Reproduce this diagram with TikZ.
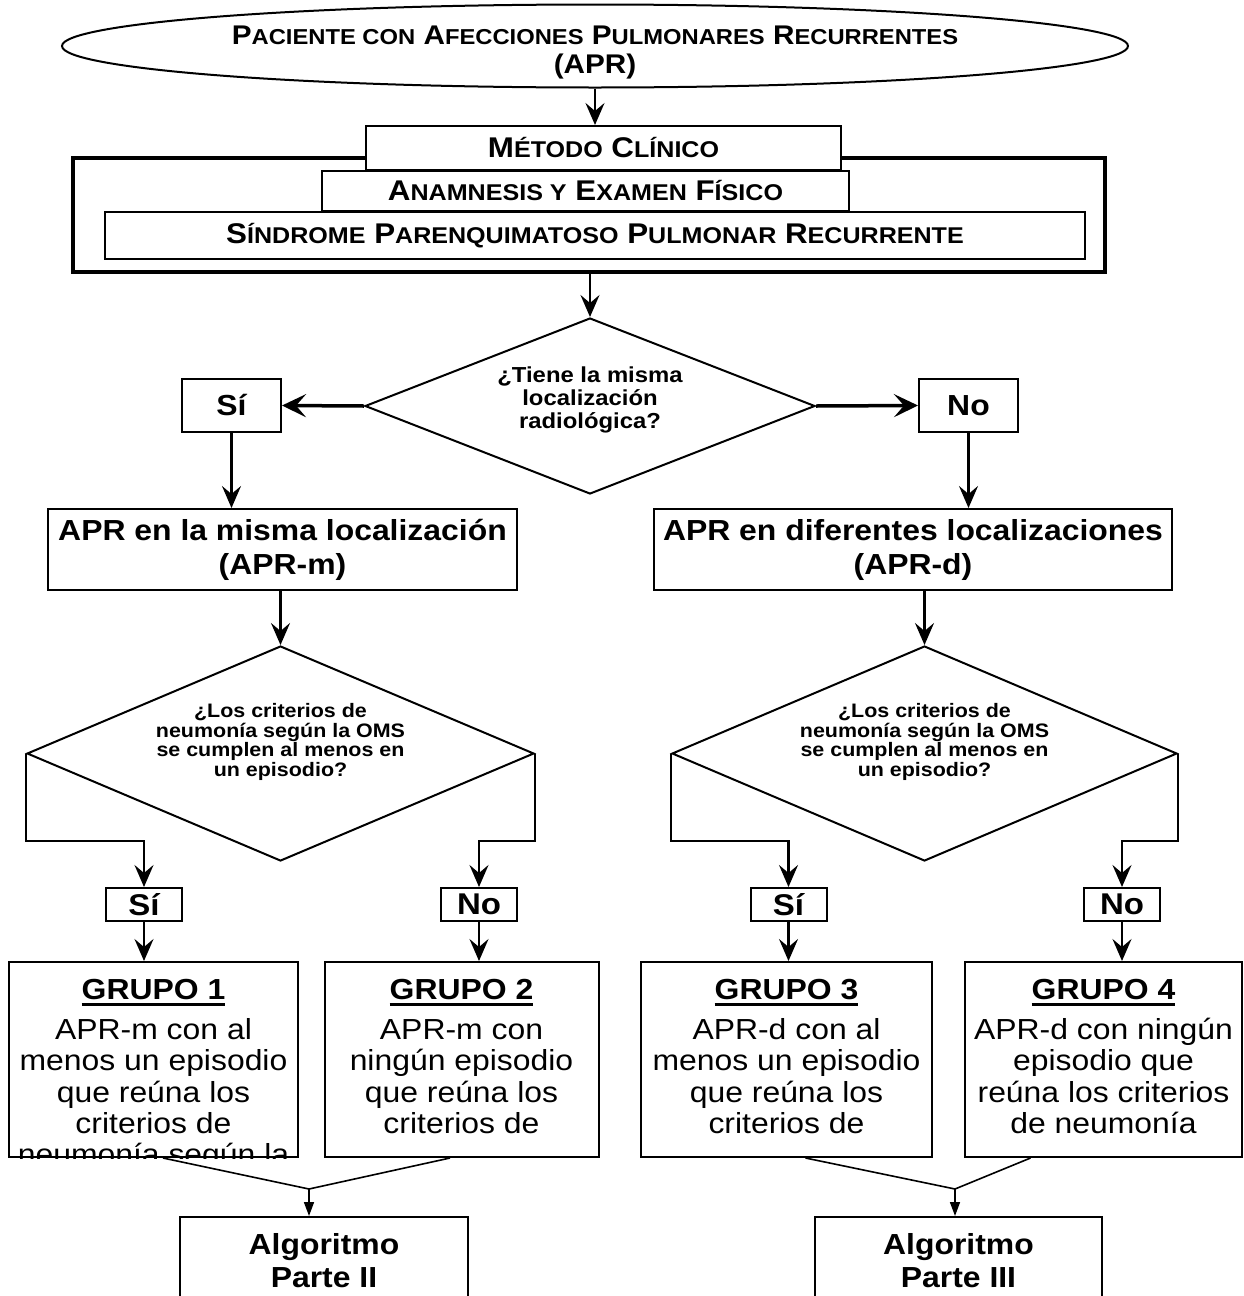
\documentclass[tikz,border=0pt]{standalone}
\usepackage{fontspec}
\setmainfont{Liberation Sans}[FakeStretch=1.1]
\usetikzlibrary{shapes.geometric,arrows.meta}
% thick underline for the group titles
\newcommand\thickul[1]{\setbox0\hbox{#1}\rlap{\vrule height -4pt depth 6.8pt width \wd0}\box0}
% fake small capitals for the headings
\newcommand\lowT[1]{{\fontsize{21.6}{21.6}\selectfont #1}}
\newcommand\lowB[1]{{\fontsize{22.8}{22.8}\selectfont #1}}
\begin{document}
\begin{tikzpicture}[x=1pt,y=-1pt,
  box/.style={draw, line width=2pt, fill=white, inner sep=0pt, align=center},
  hdfont/.style={font=\bfseries\fontsize{28.5}{30}\selectfont},
  bigfont/.style={font=\bfseries\fontsize{29}{34}\selectfont},
  yesno/.style={box, font=\bfseries\fontsize{30}{30}\selectfont, minimum width=76, minimum height=33},
  grptext/.style={anchor=north, inner sep=0pt, align=center, font=\fontsize{29}{31.3}\selectfont},
  arr/.style={line width=2.3pt, -{Stealth[length=22pt,width=19pt,inset=8pt]}},
  arrbold/.style={line width=3.5pt, -{Stealth[length=24pt,width=23pt,inset=10pt]}},
  mergeline/.style={line width=1.6pt},
  mergearr/.style={line width=1.6pt, -{Triangle[length=14pt,width=10pt]}}]
\useasboundingbox (0,0) rectangle (1243,1296);
\fill[white] (0,0) rectangle (1243,1296);

% patient oval
\node[draw, ellipse, line width=2pt, minimum width=1066, minimum height=83, inner sep=0pt] (start) at (595,46) {};
\node[align=center, inner sep=0pt, font=\bfseries\fontsize{27}{29}\selectfont] (starttxt) at (595,53)
  {P\lowT{ACIENTE CON} A\lowT{FECCIONES} P\lowT{ULMONARES} R\lowT{ECURRENTES}\\(APR)};

% clinical method block
\node[draw, line width=3.5pt, minimum width=1032, minimum height=114, inner sep=0pt] (frame) at (589,215) {};
\node[box, hdfont, minimum width=475, minimum height=44] (metodo) at (603.5,148) {M\lowB{ÉTODO} C\lowB{LÍNICO}};
\node[box, hdfont, minimum width=527, minimum height=40] (anam) at (585.5,191) {A\lowB{NAMNESIS Y} E\lowB{XAMEN} F\lowB{ÍSICO}};
\node[box, hdfont, minimum width=980, minimum height=47] (sind) at (595,235.5) {S\lowB{ÍNDROME} P\lowB{ARENQUIMATOSO} P\lowB{ULMONAR} R\lowB{ECURRENTE}};

\draw[arr] (start.south) -- (start.south |- metodo.north);

% first decision
\node[draw, diamond, line width=2pt, minimum width=450, minimum height=176, inner sep=0pt] (q1) at (590,406) {};
\node[align=center, inner sep=0pt, font=\bfseries\fontsize{21.7}{23}\selectfont] (q1t) at (590,400)
  {¿Tiene la misma\\localización\\radiológica?};
\draw[arr] (frame.south -| q1.north) -- (q1.north);

\node[box, bigfont, minimum width=99, minimum height=53] (si1) at (231.5,405.5) {Sí};
\node[box, bigfont, minimum width=99, minimum height=53] (no1) at (968.5,405.5) {No};
\draw[arrbold] (q1.west) -- (si1.east);
\draw[arrbold] (q1.east) -- (no1.west);

\node[box, bigfont, minimum width=469, minimum height=81] (aprm) at (282.5,549.5) {APR en la misma localización\\(APR-m)};
\node[box, bigfont, minimum width=518, minimum height=81] (aprd) at (913,549.5) {APR en diferentes localizaciones\\(APR-d)};
\draw[arr] (si1.south) -- (si1.south |- aprm.north);
\draw[arr] (no1.south) -- (no1.south |- aprd.north);

% pneumonia criteria decisions
\node[draw, diamond, line width=2pt, minimum width=507, minimum height=215, inner sep=0pt] (q2) at (280.5,753.5) {};
\node[draw, diamond, line width=2pt, minimum width=505, minimum height=215, inner sep=0pt] (q3) at (924.5,753.5) {};
\node[align=center, inner sep=0pt, font=\bfseries\fontsize{19.5}{19.5}\selectfont] (q2t) at (280.5,742)
  {¿Los criterios de\\neumonía según la OMS\\se cumplen al menos en\\un episodio?};
\node[align=center, inner sep=0pt, font=\bfseries\fontsize{19.5}{19.5}\selectfont] (q3t) at (924.5,742)
  {¿Los criterios de\\neumonía según la OMS\\se cumplen al menos en\\un episodio?};
\draw[arr] (aprm.south -| q2.north) -- (q2.north);
\draw[arr] (aprd.south -| q3.north) -- (q3.north);

\node[yesno] (si2) at (144,904.5) {Sí};
\node[yesno] (no2) at (479,904.5) {No};
\node[yesno] (si3) at (788.5,904.5) {Sí};
\node[yesno] (no3) at (1122,904.5) {No};
\draw[arr] (q2.west) -- ++(0,87.5) -| (si2.north);
\draw[arr] (q2.east) -- ++(0,87.5) -| (no2.north);
\draw[arr] (q3.west) -- ++(0,87.5) -| (si3.north);
\draw[arr] (q3.east) -- ++(0,87.5) -| (no3.north);

% groups
\node[box, minimum width=289, minimum height=195] (g1) at (153.5,1059.5) {};
\node[box, minimum width=274, minimum height=195] (g2) at (461.5,1059.5) {};
\node[box, minimum width=291, minimum height=195] (g3) at (786.5,1059.5) {};
\node[box, minimum width=277, minimum height=195] (g4) at (1103.5,1059.5) {};
\draw[arr] (si2.south) -- (si2.south |- g1.north);
\draw[arr] (no2.south) -- (no2.south |- g2.north);
\draw[arr] (si3.south) -- (si3.south |- g3.north);
\draw[arr] (no3.south) -- (no3.south |- g4.north);

\begin{scope}
  \clip (g1.south west) rectangle (g1.north east);
  \node[grptext] (g1t) at (153.5,979) {{\bfseries\thickul{GRUPO 1}}\\[8.7pt]APR-m con al\\menos un episodio\\que reúna los\\criterios de\\neumonía según la};
\end{scope}
\node[grptext] (g2t) at (461.5,979) {{\bfseries\thickul{GRUPO 2}}\\[8.7pt]APR-m con\\ningún episodio\\que reúna los\\criterios de};
\node[grptext] (g3t) at (786.5,979) {{\bfseries\thickul{GRUPO 3}}\\[8.7pt]APR-d con al\\menos un episodio\\que reúna los\\criterios de};
\node[grptext] (g4t) at (1103.5,979) {{\bfseries\thickul{GRUPO 4}}\\[8.7pt]APR-d con ningún\\episodio que\\reúna los criterios\\de neumonía};

% algorithm parts
\node[box, font=\bfseries\fontsize{29}{33}\selectfont, minimum width=288, minimum height=88] (alg2) at (324,1261) {Algoritmo\\Parte II};
\node[box, font=\bfseries\fontsize{29}{33}\selectfont, minimum width=287, minimum height=88] (alg3) at (958.5,1261) {Algoritmo\\Parte III};

\coordinate (j1) at (309,1189);
\coordinate (j2) at (955,1189);
\draw[mergeline] ([xshift=9.5]g1.south) -- (j1) -- ([xshift=-11.5]g2.south);
\draw[mergeline] ([xshift=19]g3.south) -- (j2) -- ([xshift=-73]g4.south);
\draw[mergearr] (j1) -- (j1 |- alg2.north);
\draw[mergearr] (j2) -- (j2 |- alg3.north);
\end{tikzpicture}
\end{document}
